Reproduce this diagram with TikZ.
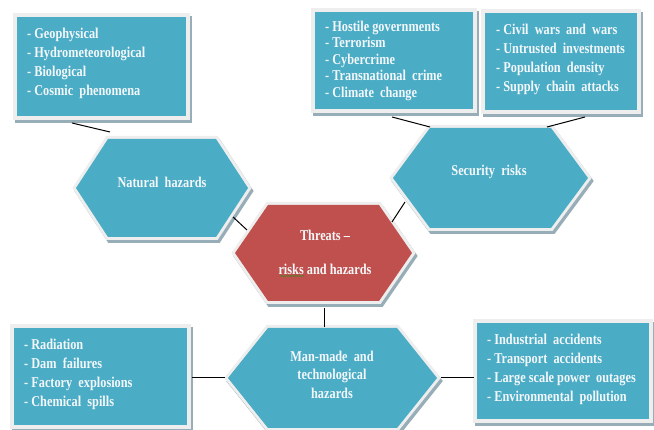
\documentclass[tikz,border=0pt]{standalone}
\usepackage{fontspec}
\setmainfont{Liberation Serif}[FakeStretch=0.82, UprightFont=* Bold]
\usetikzlibrary{decorations.pathmorphing}
\definecolor{tealc}{HTML}{4BACC6}
\definecolor{redc}{HTML}{C0504D}
\definecolor{rimc}{HTML}{EEEEEE}
\definecolor{shadc}{HTML}{97AEB8}
\definecolor{spellc}{HTML}{5E7A2A}
\definecolor{textc}{HTML}{F4F8FA}
\tikzset{
  shadowpart/.style={draw=shadc, fill=shadc, line width=8pt, line join=miter},
  rimpart/.style={draw=rimc, line width=8pt, line join=miter},
  hexshadow/.style={draw=shadc, fill=shadc, line width=6pt, line join=miter},
  hexrim/.style={draw=rimc, line width=6pt, line join=miter},
  tealpart/.style={fill=tealc},
  redpart/.style={fill=redc},
  listtext/.style={anchor=north west, inner sep=0pt, align=left, text=textc, font=\fontsize{15}{19}\selectfont},
  hextext/.style={inner sep=0pt, align=center, text=textc, font=\fontsize{15}{19}\selectfont},
  link/.style={draw=black, line width=1pt},
}
% name, x1, y1, x2, y2
\newcommand\drawpanel[5]{%
  \draw[shadowpart, shift={(2,3)}] (#2,#3) rectangle (#4,#5);
  \draw[rimpart] (#2,#3) rectangle (#4,#5);
  \fill[tealpart] (#2,#3) rectangle (#4,#5);
  \coordinate (#1) at ({(#2+#4)/2},{(#3+#5)/2});
}
% name, cx, cy, half width, half height, inset, fill style
\newcommand\drawhex[7]{%
  \draw[hexshadow, shift={(2,3)}] ({#2-#4},#3) -- ({#2-#4+#6},{#3-#5}) -- ({#2+#4-#6},{#3-#5}) -- ({#2+#4},#3) -- ({#2+#4-#6},{#3+#5}) -- ({#2-#4+#6},{#3+#5}) -- cycle;
  \draw[hexrim] ({#2-#4},#3) -- ({#2-#4+#6},{#3-#5}) -- ({#2+#4-#6},{#3-#5}) -- ({#2+#4},#3) -- ({#2+#4-#6},{#3+#5}) -- ({#2-#4+#6},{#3+#5}) -- cycle;
  \fill[#7] ({#2-#4},#3) -- ({#2-#4+#6},{#3-#5}) -- ({#2+#4-#6},{#3-#5}) -- ({#2+#4},#3) -- ({#2+#4-#6},{#3+#5}) -- ({#2-#4+#6},{#3+#5}) -- cycle;
  \coordinate (#1) at (#2,#3);
}
\begin{document}
\begin{tikzpicture}[x=1pt, y=-1pt]
\useasboundingbox (0,0) rectangle (654,430);
\fill[white] (0,0) rectangle (654,430);

% ---------- panels ----------
\drawpanel{natbox}{17}{17}{186}{116}
\drawpanel{secboxa}{315}{12}{473}{109}
\drawpanel{secboxb}{485}{13}{637}{110}
\drawpanel{manboxa}{14}{328}{187}{425}
\drawpanel{manboxb}{477}{323}{649}{419}

% ---------- hexagons ----------
\drawhex{nathex}{162}{188}{86}{49}{32}{tealpart}
\drawhex{sechex}{490.5}{178}{97.5}{50}{37}{tealpart}
\drawhex{threathex}{323.5}{253}{88.5}{48}{33}{redpart}
\drawhex{manhex}{332.5}{378}{104.5}{50}{40}{tealpart}

% ---------- connector end points ----------
\coordinate (natbox-foot) at (72,123);
\coordinate (nathex-top) at (110,132);
\coordinate (secboxa-foot) at (392,117);
\coordinate (sechex-topl) at (430,127);
\coordinate (secboxb-foot) at (585,117);
\coordinate (sechex-topr) at (547,127);
\coordinate (nathex-br) at (233,217);
\coordinate (threat-ul) at (247,230);
\coordinate (sechex-bl) at (405,202);
\coordinate (threat-ur) at (392,222);
\coordinate (threat-bot) at (324,308);
\coordinate (manhex-top) at (324,327);
\coordinate (manboxa-right) at (192,378);
\coordinate (manhex-left) at (225,378);
\coordinate (manhex-right) at (441,378);
\coordinate (manboxb-left) at (474,378);

\draw[link] (natbox-foot) -- (nathex-top);
\draw[link] (secboxa-foot) -- (sechex-topl);
\draw[link] (secboxb-foot) -- (sechex-topr);
\draw[link] (nathex-br) -- (threat-ul);
\draw[link] (sechex-bl) -- (threat-ur);
\draw[link] (threat-bot) -- (manhex-top);
\draw[link] (manboxa-right) -- (manhex-left);
\draw[link] (manhex-right) -- (manboxb-left);

% ---------- texts ----------
\node[listtext] (natlist) at (27,27.5) {- Geophysical\\- Hydrometeorological\\- Biological\\- Cosmic\ \ phenomena};
\node[listtext, font=\fontsize{15}{16.5}\selectfont] (seclista) at (325,20.5) {- Hostile governments\\- Terrorism\\- Cybercrime\\- Transnational\ \ crime\\- Climate\ \ change};
\node[listtext] (seclistb) at (496,23.5) {- Civil\ \ wars\ \ and\ \ wars\\- Untrusted\ \ investments\\- Population\ \ density\\- Supply\ \ chain\ \ attacks};
\node[listtext] (manlista) at (24,338.5) {- Radiation\\- Dam\ \ failures\\- Factory\ \ explosions\\- Chemical\ \ spills};
\node[listtext] (manlistb) at (487,333.5) {- Industrial\ \ accidents\\- Transport\ \ accidents\\- Large scale power\ \ outages\\- Environmental\ \ pollution};

\node[hextext] (natlabel) at (162,182) {Natural\ \ hazards};
\node[hextext] (seclabel) at (489,172) {Security\ \ risks};
\node[hextext, font=\fontsize{15}{34}\selectfont] (threatlabel) at (325,252) {Threats --\\risks and hazards};
\node[hextext, font=\fontsize{15}{18.5}\selectfont] (manlabel) at (332,374.5) {Man-made\ \ and\\technological\\hazards};

\coordinate (risks-a) at (280,276);
\coordinate (risks-b) at (304,276);
\draw[spellc, line width=0.6pt, decorate, decoration={snake, amplitude=0.5pt, segment length=2pt}] (risks-a) -- (risks-b);
\end{tikzpicture}
\end{document}
